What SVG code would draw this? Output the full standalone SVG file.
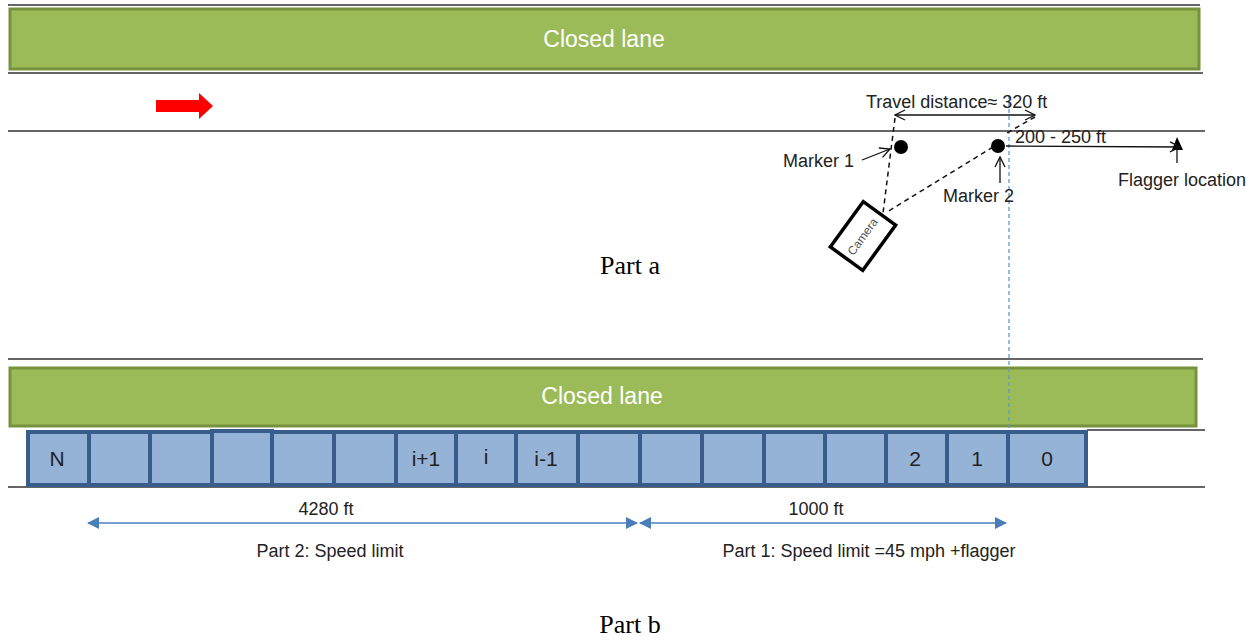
<svg xmlns="http://www.w3.org/2000/svg" width="1260" height="640" viewBox="0 0 1260 640">
<defs>
<style>
.road{stroke:#333;stroke-width:1.5;fill:none}
.lane{fill:#9bbb59;stroke:#76923c;stroke-width:3}
.lanetxt{font-family:"Liberation Sans",Arial,sans-serif;font-size:23px;fill:#fff;text-anchor:middle}
.cell{fill:#95b3d7;stroke:#385d8a;stroke-width:4}
.celltxt{font-family:"Liberation Sans",Arial,sans-serif;font-size:21px;fill:#222;text-anchor:middle}
.lbl{font-family:"Liberation Sans",Arial,sans-serif;font-size:18px;fill:#222}
.cap{font-family:"Liberation Serif","Times New Roman",serif;font-size:26px;fill:#000;text-anchor:middle}
.dash{stroke:#111;stroke-width:1.5;stroke-dasharray:5,4;fill:none}
.thin{stroke:#111;stroke-width:1.3;fill:none}
.dim{stroke:#4a7ebb;stroke-width:1.5;fill:none}
</style>
<marker id="open" viewBox="0 0 12 12" refX="11" refY="6" markerWidth="12" markerHeight="12" markerUnits="userSpaceOnUse" orient="auto-start-reverse">
<path d="M1,1 L11,6 L1,11" fill="none" stroke="#111" stroke-width="1.3"/>
</marker>
<marker id="blue" viewBox="0 0 12 12" refX="11" refY="6" markerWidth="12" markerHeight="12" markerUnits="userSpaceOnUse" orient="auto-start-reverse">
<path d="M0,0 L12,6 L0,12 Z" fill="#4a7ebb"/>
</marker>
</defs>
<rect width="1260" height="640" fill="#fff"/>

<g id="roads">
<line class="road" x1="8" y1="5" x2="1200" y2="5"/>
<line class="road" x1="8" y1="73" x2="1203" y2="73"/>
<line class="road" x1="8" y1="131" x2="1205" y2="131"/>
<line class="road" x1="8" y1="359" x2="1203" y2="359"/>
<line class="road" x1="1087" y1="430" x2="1205" y2="430"/>
<line class="road" x1="8" y1="487" x2="1205" y2="487"/>
</g>

<g id="closed-lane-a">
<rect class="lane" x="10" y="9" width="1189" height="60"/>
<text class="lanetxt" x="604" y="47">Closed lane</text>
</g>

<g id="direction-arrow">
<polygon points="156,100 199,100 199,93 213,106 199,119 199,112 156,112" fill="#ff0000"/>
</g>

<g id="closed-lane-b">
<rect class="lane" x="10" y="368" width="1186" height="58"/>
<text class="lanetxt" x="602" y="404">Closed lane</text>
</g>

<g id="reference-line">
<line x1="1009" y1="95" x2="1009" y2="432" stroke="#5b9bd5" stroke-width="1.3" stroke-dasharray="4,3"/>
</g>

<g id="cells">
<rect class="cell" x="28" y="432" width="61" height="53"/>
<rect class="cell" x="89" y="432" width="61" height="53"/>
<rect class="cell" x="150" y="432" width="62" height="53"/>
<rect class="cell" x="212" y="431" width="60" height="54"/>
<rect class="cell" x="272" y="432" width="62" height="53"/>
<rect class="cell" x="334" y="432" width="62" height="53"/>
<rect class="cell" x="396" y="432" width="60" height="53"/>
<rect class="cell" x="456" y="432" width="60" height="53"/>
<rect class="cell" x="516" y="432" width="62" height="53"/>
<rect class="cell" x="578" y="432" width="62" height="53"/>
<rect class="cell" x="640" y="432" width="62" height="53"/>
<rect class="cell" x="702" y="432" width="62" height="53"/>
<rect class="cell" x="764" y="432" width="61" height="53"/>
<rect class="cell" x="825" y="432" width="61" height="53"/>
<rect class="cell" x="886" y="432" width="61" height="53"/>
<rect class="cell" x="947" y="432" width="61" height="53"/>
<rect class="cell" x="1008" y="432" width="78" height="53"/>
<text class="celltxt" x="57" y="466">N</text>
<text class="celltxt" x="426" y="466">i+1</text>
<text class="celltxt" x="486" y="464">i</text>
<text class="celltxt" x="546" y="466">i-1</text>
<text class="celltxt" x="915" y="466">2</text>
<text class="celltxt" x="977" y="466">1</text>
<text class="celltxt" x="1047" y="466">0</text>
</g>

<g id="camera">
<g transform="translate(863,236) rotate(36)">
<rect x="-20" y="-28" width="40" height="56" fill="#fff" stroke="#000" stroke-width="3.5"/>
</g>
<text transform="translate(866,239) rotate(-54)" font-family="'Liberation Sans',Arial,sans-serif" font-size="12" fill="#555" text-anchor="middle">Camera</text>
</g>

<g id="markers">
<circle cx="901" cy="147" r="7" fill="#000"/>
<circle cx="998" cy="146" r="7" fill="#000"/>
<text class="lbl" x="783" y="167">Marker 1</text>
<text class="lbl" x="943" y="202">Marker 2</text>
<text class="lbl" x="866" y="108">Travel distance≈ 320 ft</text>
<text class="lbl" x="1015" y="143">200 - 250 ft</text>
<text class="lbl" x="1118" y="186">Flagger location</text>
<polygon points="1177,137 1172,150 1183,150" fill="#000"/>
<line class="thin" x1="1177" y1="150" x2="1177" y2="163"/>
</g>

<g id="connectors">
<line class="thin" x1="895" y1="115" x2="1035" y2="115" marker-start="url(#open)" marker-end="url(#open)"/>
<line class="dash" x1="895" y1="118" x2="883" y2="213"/>
<line class="dash" x1="1035" y1="117" x2="1005" y2="134"/>
<line class="dash" x1="993" y1="147" x2="887" y2="212"/>
<line class="thin" x1="862" y1="160" x2="890" y2="149" marker-end="url(#open)"/>
<line class="thin" x1="1000" y1="183" x2="1000" y2="157" marker-end="url(#open)"/>
<line class="thin" x1="1006" y1="146" x2="1180" y2="147" marker-end="url(#open)"/>
<line class="dim" x1="88" y1="523" x2="637" y2="523" marker-start="url(#blue)" marker-end="url(#blue)"/>
<line class="dim" x1="640" y1="523" x2="1006" y2="523" marker-start="url(#blue)" marker-end="url(#blue)"/>
</g>

<g id="labels">
<text class="lbl" x="326" y="515" text-anchor="middle">4280 ft</text>
<text class="lbl" x="330" y="557" text-anchor="middle">Part 2: Speed limit</text>
<text class="lbl" x="816" y="515" text-anchor="middle">1000 ft</text>
<text class="lbl" x="869" y="557" text-anchor="middle">Part 1: Speed limit =45 mph +flagger</text>
<text class="cap" x="630" y="274">Part a</text>
<text class="cap" x="630" y="633">Part b</text>
</g>
</svg>
